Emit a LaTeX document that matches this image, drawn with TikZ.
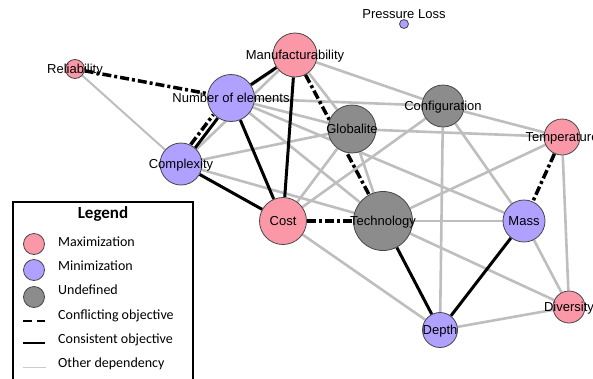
\documentclass[tikz,border=0pt]{standalone}
\usepackage{fontspec}
\setmainfont{Liberation Sans}
\newfontfamily\legendfont{Carlito}
\usetikzlibrary{backgrounds}

\definecolor{maxpink}{RGB}{250,152,168}
\definecolor{minpurple}{RGB}{176,160,255}
\definecolor{undefgray}{RGB}{140,140,140}
\definecolor{depgray}{RGB}{190,190,190}
\definecolor{rimgray}{RGB}{70,70,70}

\tikzset{
  vtx/.style={circle, draw=rimgray, line width=0.8pt, inner sep=0pt, minimum size=#1},
  maxnode/.style={vtx=#1, fill=maxpink},
  minnode/.style={vtx=#1, fill=minpurple},
  undefnode/.style={vtx=#1, fill=undefgray},
  lbl/.style={font=\fontsize{13}{15}\selectfont, text height=9.5pt, text depth=0pt, inner sep=0pt},
  other/.style={draw=depgray, line width=2.6pt},
  consistent/.style={draw=black, line width=3pt},
  conflict/.style={draw=black, line width=3.5pt, dash pattern=on 9pt off 3pt on 3pt off 3pt},
  legtext/.style={font=\legendfont\fontsize{14}{16}\selectfont, inner sep=0pt, anchor=base west}
}

\begin{document}
\begin{tikzpicture}[x=1pt, y=-1pt]
            \useasboundingbox (0,0) rectangle (593,378);

            % Marking objectives by circles
            \node [maxnode=19, label={[lbl]center:Reliability}] (rel) at (75,69) {};%
            \node [minnode=9, label={[lbl]above:Pressure Loss}] (ploss) at (404,24) {};%
            \node [maxnode=44, label={[lbl]center:Manufacturability}] (manuf) at (295,55) {};%
            \node [minnode=47, label={[lbl]center:Number of elements}] (noe) at (231,98) {};%
            \node [minnode=42, label={[lbl]center:Complexity}] (cplx) at (181,164) {};%
            \node [maxnode=47, label={[lbl]center:Cost}] (cost) at (283,221) {};%
            \node [undefnode=48, label={[lbl]center:Globalite}] (glob) at (352,129) {};%
            \node [undefnode=42, label={[lbl]center:Configuration}] (config) at (443,106) {};%
            \node [maxnode=36, label={[lbl]center:Temperature}] (temp) at (562,137) {};%
            \node [undefnode=59, label={[lbl]center:Technology}] (tech) at (383,221) {};%
            \node [minnode=42, label={[lbl]center:Mass}] (mass) at (524,221) {};%
            \node [maxnode=32, label={[lbl]center:Diversity}] (div) at (569,307) {};%
            \node [minnode=35, label={[lbl]center:Depth}] (depth) at (440,330) {};%

            \begin{scope}[on background layer]
            % Drawing other dependencies
            \draw [other, line width=2pt] (rel) -- (cplx);%
            \draw [other] (cplx) -- (manuf);%
            \draw [other, transform canvas={xshift=-3pt, yshift=-3pt}] (noe) -- (manuf);%
            \draw [other] (manuf) -- (config);%
            \draw [other] (manuf) -- (glob);%
            \draw [other] (noe) -- (config);%
            \draw [other] (noe) -- (glob);%
            \draw [other] (noe) -- (tech);%
            \draw [other] (noe) -- (mass);%
            \draw [other] (cplx) -- (glob);%
            \draw [other] (cplx) -- (tech);%
            \draw [other] (cost) -- (glob);%
            \draw [other] (cost) -- (config);%
            \draw [other] (cost) -- (depth);%
            \draw [other] (glob) -- (tech);%
            \draw [other] (glob) -- (temp);%
            \draw [other] (config) -- (temp);%
            \draw [other] (config) -- (mass);%
            \draw [other] (config) -- (depth);%
            \draw [other] (tech) -- (temp);%
            \draw [other] (tech) -- (mass);%
            \draw [other] (tech) -- (div);%
            \draw [other] (temp) -- (div);%
            \draw [other] (mass) -- (div);%
            \draw [other] (depth) -- (div);%

            % Drawing consistent objectives
            \draw [consistent] (manuf) -- (noe);%
            \draw [consistent] (manuf) -- (cost);%
            \draw [consistent, transform canvas={xshift=1.2pt, yshift=-1pt}] (noe) -- (cplx);%
            \draw [consistent] (noe) -- (cost);%
            \draw [consistent] (cplx) -- (cost);%
            \draw [consistent] (tech) -- (depth);%
            \draw [consistent] (mass) -- (depth);%

            % Drawing conflicting objectives
            \draw [conflict] (rel) -- (noe);%
            \draw [conflict, transform canvas={xshift=-3.2pt, yshift=2.4pt}] (cplx) -- (noe);%
            \draw [conflict] (manuf) -- (tech);%
            \draw [conflict] (cost) -- (tech);%
            \draw [conflict] (temp) -- (mass);%
            \end{scope}

            % Drawing legend box
            \draw [line width=1.2pt] (13,202) rectangle (193,395);%
            \node [font=\legendfont\bfseries\fontsize{17}{20}\selectfont, anchor=base, inner sep=0pt] (legtitle) at (103,218) {Legend};%

            % Marking legend keys
            \node [maxnode=21] (keymax) at (34,244) {};%
            \node [minnode=21] (keymin) at (34,270) {};%
            \node [undefnode=21] (keyundef) at (34,297) {};%
            \coordinate (cfa) at (23,321); \coordinate (cfb) at (45,321);%
            \coordinate (csa) at (23,343); \coordinate (csb) at (45,343);%
            \coordinate (oda) at (23,367); \coordinate (odb) at (46,367);%
            \draw [line width=2.5pt, dash pattern=on 9pt off 5pt] (cfa) -- (cfb);%
            \draw [line width=2.5pt] (csa) -- (csb);%
            \draw [draw=depgray!80, line width=1pt] (oda) -- (odb);%

            \node [legtext] (legmax) at (58,246) {Maximization};%
            \node [legtext] (legmin) at (58,270) {Minimization};%
            \node [legtext] (legundef) at (58,294) {Undefined};%
            \node [legtext] (legconf) at (58,319) {Conflicting objective};%
            \node [legtext] (legcons) at (58,343) {Consistent objective};%
            \node [legtext] (legother) at (58,367) {Other dependency};%
\end{tikzpicture}
\end{document}
